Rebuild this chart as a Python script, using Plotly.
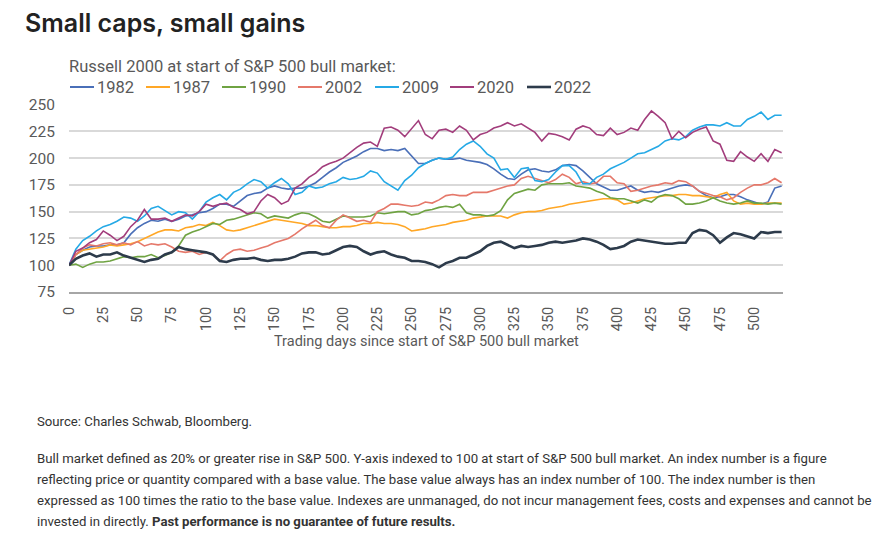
import plotly.graph_objects as go

DAYS = list(range(0, 525, 5))

S1982 = [100,110,114,117,118,118,119,119,121,129,
         135,139,142,141,143,141,143,146,147,149,
         150,153,157,157,155,160,165,167,168,172,
         174,172,171,172,172,174,177,182,187,191,
         196,199,202,206,209,209,207,208,207,209,
         202,195,195,198,200,199,199,200,198,197,
         196,194,190,185,181,180,185,189,190,188,
         187,189,193,194,193,188,182,176,173,170,
         170,172,174,170,168,169,168,170,172,174,
         175,174,169,165,163,164,166,166,164,161,
         159,157,159,172,174]

S1987 = [100,110,114,115,116,117,119,118,119,120,
         122,125,128,131,133,133,132,135,136,138,
         137,140,137,133,132,133,135,137,139,141,
         143,142,141,140,139,137,137,136,135,135,
         136,136,137,139,139,140,139,139,138,136,
         132,133,134,136,137,138,140,141,142,144,
         145,146,146,146,144,147,149,150,150,151,
         153,154,155,157,158,159,160,161,162,162,
         161,157,158,160,162,163,164,165,165,166,
         166,165,165,164,163,166,168,160,157,158,
         157,157,158,158,158]

S1990 = [100,101,98,101,103,103,104,106,108,107,
         108,108,110,107,109,112,118,128,131,133,
         136,139,138,142,143,145,147,149,148,144,
         146,145,144,147,149,148,145,141,140,143,
         146,145,145,145,146,149,148,149,150,150,
         147,148,151,152,154,155,154,157,149,147,
         147,146,147,151,161,167,169,171,170,175,
         176,176,176,177,174,173,172,169,167,163,
         162,162,160,158,161,159,164,166,165,162,
         157,157,158,160,163,160,158,157,158,160,
         158,158,157,158,157]

S2002 = [100,110,116,119,118,120,121,119,121,119,
         122,118,120,119,120,117,113,112,113,110,
         112,110,104,110,114,115,113,114,116,118,
         121,123,125,129,134,138,142,137,135,142,
         147,144,141,142,140,150,153,157,157,156,
         155,156,159,158,161,165,166,165,165,168,
         168,168,170,172,174,175,181,183,181,179,
         177,180,185,182,176,178,176,177,183,183,
         177,176,169,170,172,174,175,177,176,179,
         178,174,169,167,165,164,161,163,168,172,
         175,175,177,181,177]

S2009 = [100,115,123,127,132,136,138,141,145,144,
         141,146,153,155,151,147,150,149,143,150,
         159,163,166,161,168,171,176,180,178,172,
         177,181,176,166,168,174,172,173,176,178,
         182,180,181,183,188,186,178,174,170,179,
         184,191,195,198,200,199,201,208,213,216,
         211,204,200,189,190,182,190,191,179,178,
         180,187,193,193,187,176,176,182,185,190,
         193,196,200,204,205,208,211,216,218,217,
         220,226,229,231,231,230,233,230,230,236,
         239,243,236,240,240]

S2020 = [100,113,116,121,124,132,128,123,127,136,
         142,152,143,143,144,141,144,147,146,150,
         157,155,157,158,154,152,148,150,160,166,
         163,157,160,172,176,182,186,192,195,197,
         200,205,210,214,215,211,228,229,226,220,
         228,235,222,218,226,227,224,230,226,217,
         222,224,228,230,233,230,232,228,224,216,
         223,222,220,217,227,230,228,222,221,228,
         222,224,228,226,236,244,239,233,218,225,
         219,224,227,229,216,213,198,197,206,201,
         197,204,197,208,205]

S2022 = [100,106,109,111,108,110,110,112,109,107,
         105,103,105,106,110,112,117,115,114,113,
         112,110,104,103,105,106,106,107,105,104,
         105,105,106,108,111,112,112,110,111,114,
         117,118,117,113,110,112,113,110,108,107,
         104,104,103,101,98,102,104,107,107,110,
         113,118,121,122,119,116,118,117,118,119,
         121,122,121,122,123,125,124,122,119,115,
         116,118,122,124,123,122,121,120,120,121,
         121,130,133,132,128,121,126,130,129,127,
         125,131,130,131,131]

SERIES = ["1982", "1987", "1990", "2002", "2009", "2020", "2022"]
VALUES = [S1982, S1987, S1990, S2002, S2009, S2020, S2022]
COLORS = ["#4a6fb8", "#ffa726", "#6fa342", "#e5786a", "#25a9e6", "#a23d7c", "#2d3b4b"]
WIDTHS = [1.6, 1.6, 1.6, 1.6, 1.6, 1.6, 2.6]

X_TICKS = list(range(0, 525, 25))
Y_TICKS = [75, 100, 125, 150, 175, 200, 225, 250]

TITLE = "Small caps, small gains"
SUBTITLE = "Russell 2000 at start of S&P 500 bull market:"
XTITLE = "Trading days since start of S&P 500 bull market"
SOURCE = "Source: Charles Schwab, Bloomberg."
NOTES = [
    "Bull market defined as 20% or greater rise in S&P 500. Y-axis indexed to 100 at start of S&P 500 bull market. An index number is a figure",
    "reflecting price or quantity compared with a base value. The base value always has an index number of 100. The index number is then",
    "expressed as 100 times the ratio to the base value. Indexes are unmanaged, do not incur management fees, costs and expenses and cannot be",
    "invested in directly. <b>Past performance is no guarantee of future results.</b>",
]

W, H = 889, 552
L, R, T, B = 69, 783, 104, 292


def px(x):
    return (x - L) / (R - L)


def py(y):
    return (B - y) / (B - T)


fig = go.Figure()
for name, vals, col, w in zip(SERIES, VALUES, COLORS, WIDTHS):
    fig.add_trace(go.Scatter(x=DAYS, y=vals, mode="lines", name=name,
                             line=dict(color=col, width=w)))

ann = []
shapes = []
ann.append(dict(text=SUBTITLE, x=px(67), y=py(67), xref="paper", yref="paper",
                xanchor="left", yanchor="middle", showarrow=False,
                font=dict(size=16.5, color="#595959")))
LEG_X = [70, 146, 222, 298, 375, 450, 527]
for name, col, lx, w in zip(SERIES, COLORS, LEG_X, WIDTHS):
    shapes.append(dict(type="line", xref="paper", yref="paper",
                       x0=px(lx), x1=px(lx + 24), y0=py(87), y1=py(87),
                       line=dict(color=col, width=max(2, w))))
    ann.append(dict(text=name, x=px(lx + 24.5), y=py(87.5), xref="paper", yref="paper",
                    xanchor="left", yanchor="middle", showarrow=False,
                    font=dict(size=16.5, color="#595959")))
ann.append(dict(text=XTITLE, x=px(426), y=py(341), xref="paper", yref="paper",
                xanchor="center", yanchor="middle", showarrow=False,
                font=dict(size=14.5, color="#595959")))
ann.append(dict(text=SOURCE, x=px(35), y=py(421), xref="paper", yref="paper",
                xanchor="left", yanchor="middle", showarrow=False,
                font=dict(size=13.2, color="#333333")))
for i, line in enumerate(NOTES):
    ann.append(dict(text=line, x=px(35), y=py(458 + 21.3 * i), xref="paper", yref="paper",
                    xanchor="left", yanchor="middle", showarrow=False,
                    font=dict(size=13.2, color="#333333")))

fig.update_layout(
    width=W, height=H,
    margin=dict(l=L, r=W - R, t=T, b=H - B, autoexpand=False),
    paper_bgcolor="white", plot_bgcolor="white",
    showlegend=False,
    font=dict(family="Roboto, Arial, sans-serif", color="#595959"),
    title=dict(text=TITLE, x=25 / W, xanchor="left", xref="container",
               y=1 - 23 / H, yanchor="middle", yref="container",
               font=dict(size=25, color="#222222", family="Inter, Roboto, sans-serif", weight=600)),
    annotations=ann,
    shapes=shapes,
    xaxis=dict(range=[0, 521], tickvals=X_TICKS, tickangle=-90,
               tickfont=dict(size=14.5, color="#595959"),
               showgrid=False, zeroline=False, showline=True,
               linecolor="#a6a6a6", linewidth=2, ticks="", ticklabelstandoff=7),
    yaxis=dict(range=[75, 250.5], tickvals=Y_TICKS,
               tickfont=dict(size=15.5, color="#595959"),
               showgrid=True, gridcolor="#d9d9d9", gridwidth=1.5,
               zeroline=False, showline=False, ticks="", ticklabelstandoff=13),
)

fig.write_html("out.html")
